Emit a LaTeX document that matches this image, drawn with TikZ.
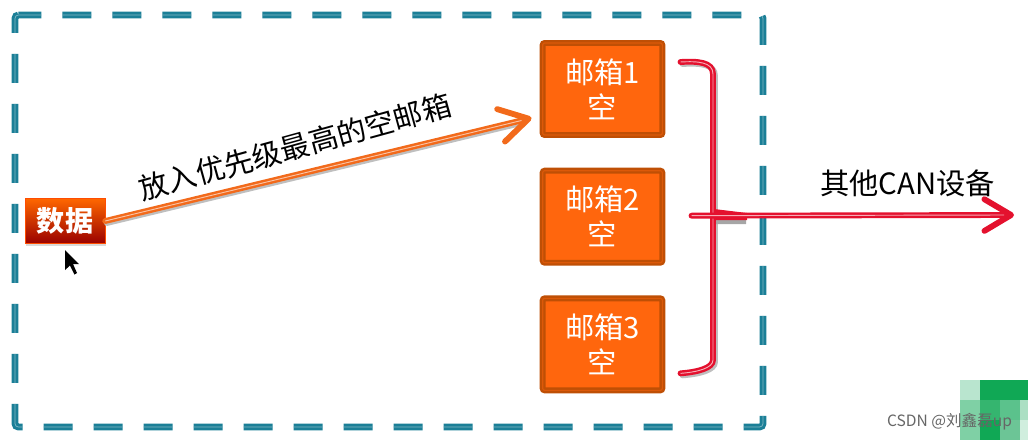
\documentclass[tikz,border=0pt]{standalone}
\usepackage{fontspec}
\setmainfont{Noto Sans CJK SC}
\usepackage{xcolor}
\usetikzlibrary{arrows.meta, positioning, calc, shadows}

\definecolor{frameteal}{HTML}{1B7F97}
\definecolor{boxfill}{HTML}{FF660D}
\definecolor{boxedge}{HTML}{BF4F05}
\definecolor{linkorange}{HTML}{F26A1B}
\definecolor{busred}{HTML}{E4112E}

\begin{document}
\begin{tikzpicture}[
    x=0.3mm, y=-0.3mm,
    node distance=10mm,
    framebox/.style={draw=frameteal, line width=2.6pt, double=white!45!frameteal,
      double distance=0.6pt, dash pattern=on 8.7mm off 6.3mm, dash phase=1.8mm, rounded corners=1mm},
    mailbox/.style={draw=boxedge, line width=2pt, double=boxedge!55!boxfill,
      double distance=1pt, rounded corners=0.6mm, fill=boxfill, text=white,
      minimum width=35.9mm, minimum height=27.6mm, inner sep=0pt, align=center,
      font=\fontsize{25}{30}\selectfont, drop shadow={shadow xshift=0.4mm, shadow yshift=-0.4mm, opacity=0.25}},
    databox/.style={draw=orange!60!red, line width=0.4pt, top color=red!10!orange!90!red, bottom color=red!60!black,
      text=white, minimum width=24mm, minimum height=13.6mm, inner sep=0pt,
      font=\fontsize{24}{26}\selectfont\bfseries, drop shadow={shadow xshift=0.3mm, shadow yshift=-0.6mm, opacity=0.3}},
    label/.style={text=black, inner sep=0pt, font=\fontsize{25}{28}\selectfont},
    tag/.style={text=black!60, inner sep=0pt, font=\fontsize{13.3}{15}\selectfont},
    linkarrow/.style={draw=linkorange, line width=5pt, line cap=round,
      -{Straight Barb[length=8.5mm, width=10mm, line cap=round, line join=round]}},
    busline/.style={draw=busred, line width=5pt, line cap=round},
    stripe/.style={draw=white!65!busred, line width=0.8pt},
    shade/.style={draw=black!25, line width=5pt, line cap=round}
]
\useasboundingbox (0,0) rectangle (1028,440);

% green mosaic in the corner
\foreach \px/\py/\tint in {960/380/B9E5CF, 980/380/10A855, 1000/380/10A855, 1020/380/10A855,
    960/400/7FD0A5, 980/400/35B56F, 1000/400/5BC28C, 1020/400/ABDFC3,
    960/420/7FD0A5, 980/420/10A855, 1000/420/6CC596, 1020/420/D0EEDE}{
  \definecolor{cell}{HTML}{\tint}
  \fill[cell] (\px,\py) rectangle ++(20,20);
}

\draw[framebox] (15,15) -- (763,15) -- (763,427) -- (15,427) -- cycle;

\node (box1) [mailbox] at (602.5,89) {邮箱1\\空};
\node (box2) [mailbox, below=of box1] {邮箱2\\空};
\node (box3) [mailbox, below=of box2] {邮箱3\\空};
\node (data) [databox] at (65,221) {数据};

\node (fill) [label, rotate=15.4] at (295,147) {放入优先级最高的空邮箱};
\node (other) [label] at (907.5,183) {其他CAN设备};
\node (mark) [tag] at (949.5,422) {CSDN @刘鑫磊up};

\coordinate (linkend) at ($(box1.west)+(-10,29)$);
\coordinate (top) at ($(box1.east)+(17,-27)$);
\coordinate (topc) at (713,74);
\coordinate (botc) at (713,360);
\coordinate (bot) at ($(box3.east)+(17,29)$);
\coordinate (busin) at ($(box2.east)+(28,-1)$);
\coordinate (busout) at (1014,215);

% arrow from the data box
\draw[shade, transform canvas={xshift=0.5mm,yshift=-0.6mm}] (data.east) -- ($(linkend)+(-10,2.5)$);
\draw[linkarrow] (data.east) -- (linkend);
\draw[draw=white!60!linkorange, line width=0.8pt] (data.east) -- ($(linkend)+(-10,2.5)$);

% bracket
\draw[shade, transform canvas={xshift=0.6mm,yshift=-0.6mm}] (top) .. controls (698,61) and (713,62) .. (topc) -- (botc) .. controls (713,368) and (698,372) .. (bot);
\draw[busline] (top) .. controls (698,61) and (713,62) .. (topc) -- (botc) .. controls (713,368) and (698,372) .. (bot);
\draw[stripe] (top) .. controls (698,61) and (713,62) .. (topc) -- (botc) .. controls (713,368) and (698,372) .. (bot);

% bus to the other devices
\fill[black!35] (716,213) -- (746,216) -- (746,224) -- (716,224) -- cycle;
\draw[busline, -{Straight Barb[length=8mm, width=9.5mm, line cap=round, line join=round]}] (busin) -- (busout);
\fill[busred] (714,209) -- (747,213) -- (747,220) -- (714,220) -- cycle;
\draw[stripe] (busin) -- ($(busout)+(-10,0)$);

% mouse pointer
\fill[black] (65,250) -- (65,270) -- (70,265.5) -- (74.5,274.5) -- (77,273) -- (73,264) -- (79,264) -- cycle;
\end{tikzpicture}
\end{document}
